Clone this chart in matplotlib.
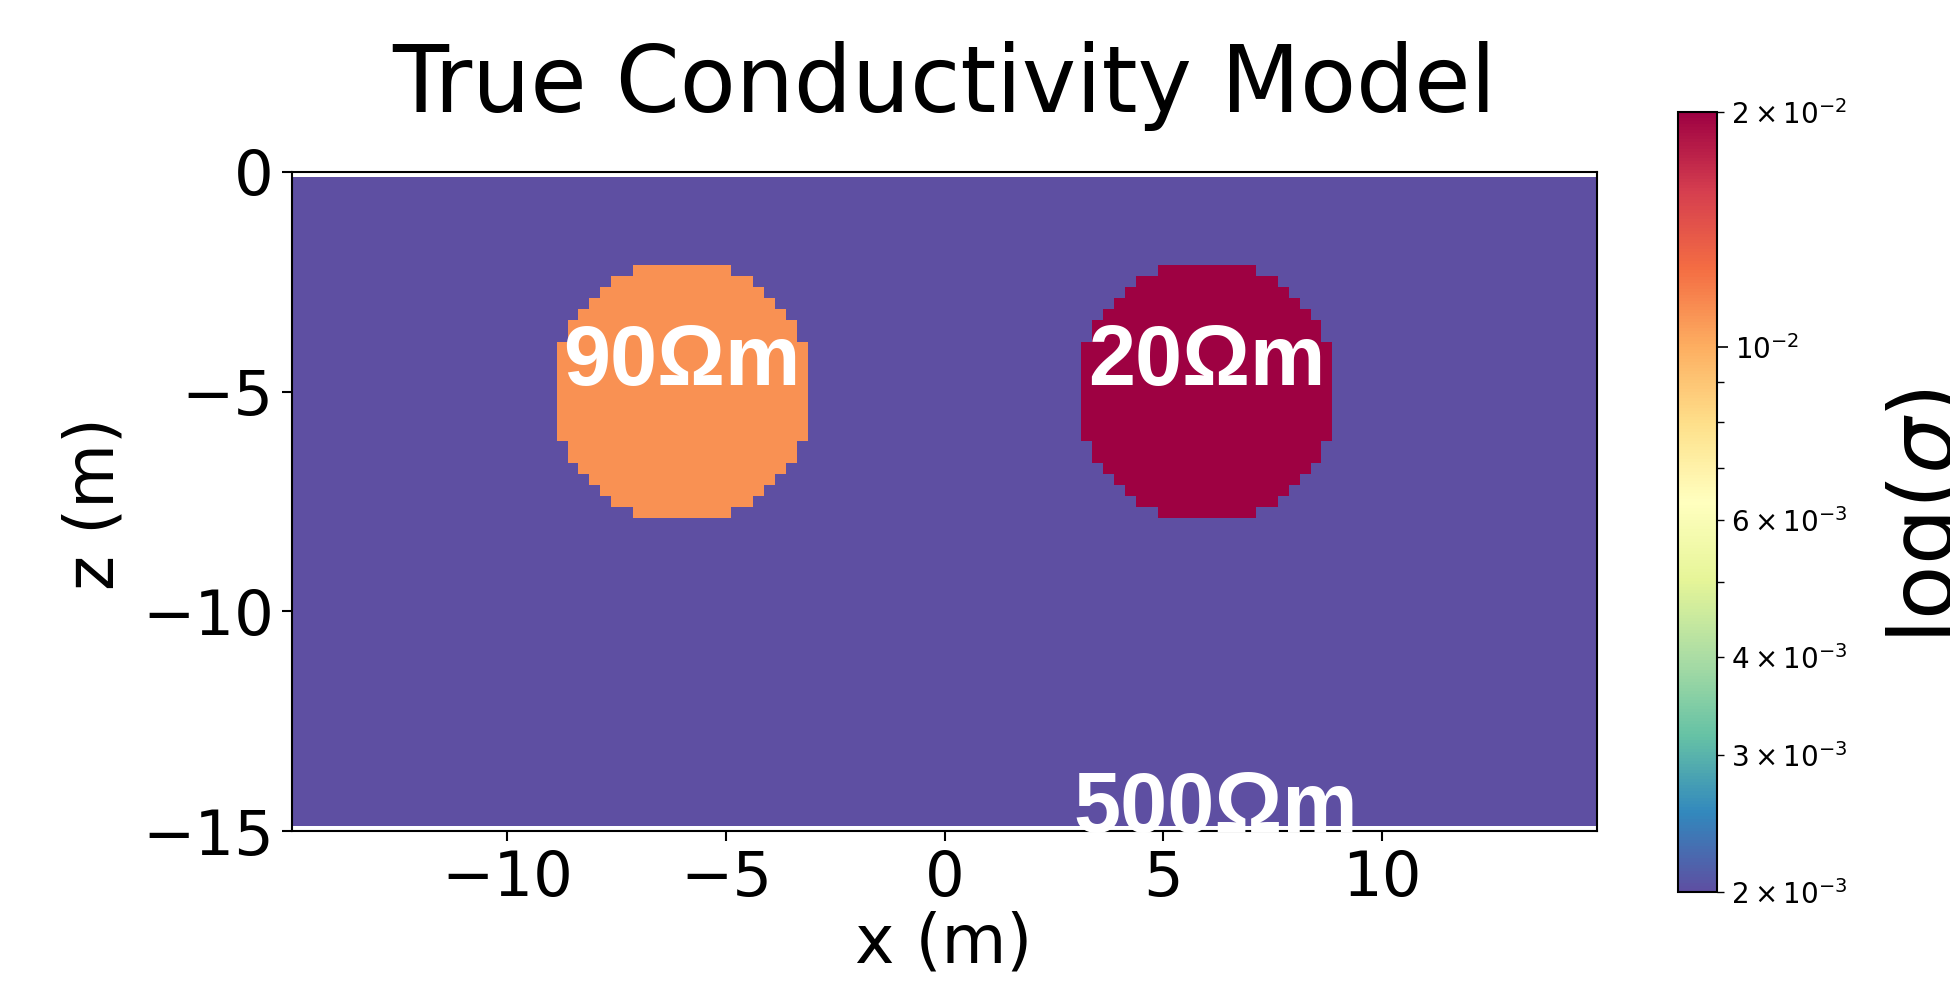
import numpy as np
import matplotlib
matplotlib.use('Agg')
import matplotlib.pyplot as plt
from matplotlib.colors import LogNorm

# Model: background resistivity plus two circular bodies
rho_background = 500.0
body_centers_x = [-6.0, 6.0]
body_centers_z = [-5.0, -5.0]
body_radii = [2.95, 2.95]
body_rho = [90.0, 20.0]
labels = ['90Ωm', '20Ωm', '500Ωm']
label_x = [-6.0, 6.0, 6.2]
label_z = [-4.85, -4.85, -15.02]

# Mesh (0.25 m cells, centres on a 0.25 m grid)
x_edges = np.linspace(-15.125, 15.125, 122)
z_edges = np.linspace(-14.875, -0.125, 60)
xc = 0.5 * (x_edges[1:] + x_edges[:-1])
zc = 0.5 * (z_edges[1:] + z_edges[:-1])
X, Z = np.meshgrid(xc, zc)

rho = np.full(X.shape, rho_background)
for cx, cz, r, val in zip(body_centers_x, body_centers_z, body_radii, body_rho):
    rho[(X - cx) ** 2 + (Z - cz) ** 2 <= r ** 2] = val
sigma = 1.0 / rho

W, H = 1950, 997
fig = plt.figure(figsize=(W / 100, H / 100), dpi=100)
ax = fig.add_axes([292 / W, (H - 831) / H, 1305 / W, 659 / H])
cax = fig.add_axes([1678 / W, (H - 892) / H, 39 / W, 780 / H])

mesh = ax.pcolormesh(x_edges, z_edges, sigma, cmap='Spectral_r',
                     norm=LogNorm(vmin=2e-3, vmax=2e-2))
ax.set_xlim(-14.93, 14.93)
ax.set_ylim(-15, 0)
ax.set_xticks([-10, -5, 0, 5, 10])
ax.set_yticks([0, -5, -10, -15])
ax.tick_params(labelsize=45, length=7, width=1.5, pad=6)
for s in ax.spines.values():
    s.set_linewidth(1.5)

ax.set_title('True Conductivity Model', fontsize=66, pad=43)

for txt, tx, tz in zip(labels, label_x, label_z):
    ax.text(tx, tz, txt, ha='center', va='baseline', color='white',
            fontsize=61, fontweight='bold', family='Liberation Sans')

fig.text(944 / W, (H - 943) / H, 'x (m)', ha='center', va='center', fontsize=48)
fig.text(95 / W, (H - 504) / H, 'z (m)', ha='center', va='center',
         rotation=90, fontsize=48)

cb = fig.colorbar(mesh, cax=cax)
cb.ax.tick_params(which='both', labelsize=20, pad=5)
cb.ax.tick_params(which='major', length=8, width=1.2)
cb.ax.tick_params(which='minor', length=5, width=1.0)
cb.outline.set_linewidth(1.5)
fig.text(1884 / W, (H - 516) / H, r'$\log(\sigma)$', ha='left', va='center',
         rotation=90, fontsize=64)

plt.savefig('out.png', dpi=100)
